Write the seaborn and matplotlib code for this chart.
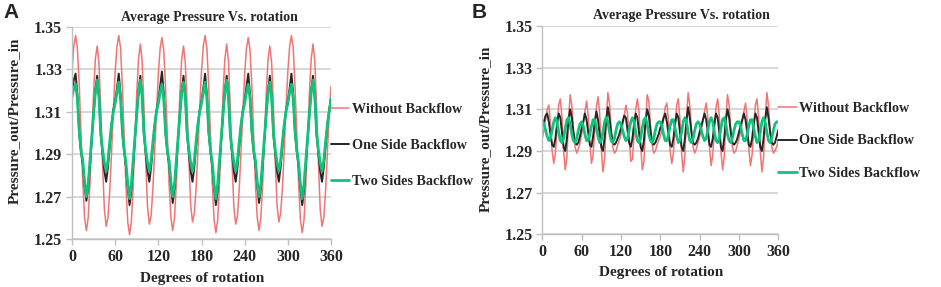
import numpy as np
import pandas as pd
import matplotlib
matplotlib.use("Agg")
import matplotlib.pyplot as plt
import seaborn as sns

# ---------------- data ----------------
SERIES = ["Without Backflow", "One Side Backflow", "Two Sides Backflow"]
TITLE = "Average Pressure Vs. rotation"
XLABEL = "Degrees of rotation"
YLABEL = "Pressure_out/Pressure_in"
XTICKS = [0, 60, 120, 180, 240, 300, 360]
YTICKS = [1.25, 1.27, 1.29, 1.31, 1.33, 1.35]

# angles sampled every 2.5 degrees, 0..360
deg = np.arange(0, 360.1, 2.5)

# Panel A
a_without = [
    1.329, 1.341, 1.346, 1.340, 1.323, 1.300, 1.277, 1.260, 1.254, 1.260, 1.276, 1.297, 1.319, 1.335, 1.341, 1.333, 1.311, 1.285, 1.264, 1.256, 1.260, 1.273, 1.291, 1.311,
    1.329, 1.341, 1.346, 1.340, 1.322, 1.298, 1.275, 1.258, 1.252, 1.258, 1.275, 1.297, 1.319, 1.335, 1.342, 1.334, 1.312, 1.286, 1.265, 1.257, 1.261, 1.274, 1.292, 1.311,
    1.328, 1.340, 1.345, 1.339, 1.322, 1.299, 1.276, 1.260, 1.254, 1.260, 1.276, 1.297, 1.319, 1.335, 1.341, 1.333, 1.312, 1.287, 1.266, 1.258, 1.262, 1.274, 1.292, 1.312,
    1.329, 1.341, 1.346, 1.340, 1.322, 1.299, 1.276, 1.259, 1.253, 1.259, 1.276, 1.297, 1.319, 1.335, 1.342, 1.334, 1.312, 1.286, 1.265, 1.257, 1.261, 1.274, 1.292, 1.311,
    1.328, 1.340, 1.345, 1.339, 1.322, 1.299, 1.276, 1.260, 1.254, 1.260, 1.276, 1.297, 1.319, 1.335, 1.341, 1.333, 1.312, 1.287, 1.266, 1.258, 1.262, 1.274, 1.292, 1.312,
    1.329, 1.341, 1.346, 1.340, 1.322, 1.299, 1.276, 1.259, 1.253, 1.259, 1.276, 1.297, 1.319, 1.335, 1.342, 1.334, 1.312, 1.286, 1.264, 1.256, 1.260, 1.273, 1.291, 1.309,
    1.322,
]
a_one = [
    1.318, 1.325, 1.328, 1.318, 1.300, 1.291, 1.285, 1.275, 1.268, 1.274, 1.285, 1.297, 1.309, 1.320, 1.327, 1.317, 1.299, 1.290, 1.282, 1.277, 1.284, 1.294, 1.304, 1.311,
    1.315, 1.321, 1.328, 1.318, 1.300, 1.291, 1.284, 1.274, 1.266, 1.273, 1.285, 1.297, 1.309, 1.320, 1.327, 1.317, 1.299, 1.290, 1.282, 1.277, 1.284, 1.294, 1.304, 1.311,
    1.315, 1.322, 1.329, 1.319, 1.300, 1.291, 1.285, 1.275, 1.267, 1.274, 1.285, 1.297, 1.309, 1.320, 1.327, 1.317, 1.299, 1.290, 1.282, 1.277, 1.284, 1.294, 1.304, 1.311,
    1.315, 1.321, 1.328, 1.318, 1.300, 1.291, 1.284, 1.274, 1.266, 1.273, 1.285, 1.297, 1.309, 1.320, 1.327, 1.317, 1.299, 1.290, 1.282, 1.277, 1.284, 1.294, 1.304, 1.311,
    1.315, 1.322, 1.328, 1.318, 1.300, 1.291, 1.285, 1.275, 1.267, 1.274, 1.285, 1.297, 1.309, 1.320, 1.327, 1.317, 1.299, 1.290, 1.282, 1.277, 1.284, 1.294, 1.304, 1.311,
    1.315, 1.321, 1.328, 1.318, 1.300, 1.291, 1.284, 1.274, 1.266, 1.273, 1.285, 1.297, 1.309, 1.320, 1.327, 1.317, 1.299, 1.290, 1.282, 1.277, 1.284, 1.294, 1.304, 1.311,
    1.316,
]
a_two = [
    1.317, 1.321, 1.323, 1.316, 1.301, 1.292, 1.287, 1.277, 1.270, 1.276, 1.287, 1.298, 1.309, 1.319, 1.325, 1.317, 1.300, 1.292, 1.286, 1.282, 1.287, 1.296, 1.304, 1.310,
    1.314, 1.319, 1.324, 1.316, 1.301, 1.292, 1.286, 1.276, 1.269, 1.276, 1.287, 1.298, 1.309, 1.319, 1.325, 1.317, 1.300, 1.292, 1.286, 1.282, 1.287, 1.296, 1.304, 1.310,
    1.314, 1.319, 1.323, 1.316, 1.301, 1.292, 1.287, 1.277, 1.270, 1.276, 1.287, 1.298, 1.309, 1.319, 1.324, 1.317, 1.300, 1.292, 1.286, 1.282, 1.287, 1.296, 1.304, 1.310,
    1.314, 1.319, 1.324, 1.316, 1.301, 1.292, 1.286, 1.276, 1.269, 1.276, 1.287, 1.298, 1.309, 1.319, 1.325, 1.317, 1.300, 1.292, 1.286, 1.282, 1.287, 1.296, 1.304, 1.310,
    1.314, 1.319, 1.323, 1.316, 1.301, 1.292, 1.287, 1.277, 1.270, 1.276, 1.287, 1.298, 1.309, 1.319, 1.324, 1.317, 1.300, 1.292, 1.286, 1.282, 1.287, 1.296, 1.304, 1.310,
    1.314, 1.319, 1.323, 1.316, 1.301, 1.292, 1.286, 1.276, 1.269, 1.276, 1.287, 1.298, 1.309, 1.319, 1.325, 1.317, 1.300, 1.292, 1.286, 1.282, 1.287, 1.296, 1.304, 1.310,
    1.316,
]

# Panel B
b_without = [
    1.296, 1.300, 1.305, 1.310, 1.312, 1.303, 1.290, 1.284, 1.289, 1.301, 1.312, 1.315, 1.306, 1.290, 1.281, 1.287, 1.305, 1.317, 1.312, 1.300, 1.292, 1.289, 1.291, 1.294,
    1.298, 1.303, 1.309, 1.314, 1.307, 1.294, 1.284, 1.288, 1.300, 1.311, 1.316, 1.308, 1.291, 1.280, 1.286, 1.304, 1.318, 1.313, 1.301, 1.292, 1.289, 1.290, 1.293, 1.295,
    1.298, 1.302, 1.307, 1.312, 1.308, 1.296, 1.285, 1.286, 1.298, 1.310, 1.315, 1.309, 1.293, 1.281, 1.285, 1.302, 1.317, 1.314, 1.302, 1.293, 1.289, 1.290, 1.293, 1.295,
    1.297, 1.300, 1.305, 1.311, 1.313, 1.304, 1.290, 1.284, 1.289, 1.301, 1.312, 1.315, 1.305, 1.289, 1.280, 1.288, 1.306, 1.318, 1.312, 1.300, 1.292, 1.289, 1.291, 1.294,
    1.297, 1.300, 1.304, 1.309, 1.313, 1.306, 1.292, 1.283, 1.288, 1.300, 1.311, 1.315, 1.307, 1.290, 1.281, 1.287, 1.305, 1.317, 1.312, 1.300, 1.292, 1.289, 1.290, 1.293,
    1.296, 1.299, 1.304, 1.309, 1.313, 1.305, 1.291, 1.283, 1.288, 1.300, 1.312, 1.315, 1.306, 1.290, 1.280, 1.287, 1.305, 1.318, 1.312, 1.300, 1.292, 1.289, 1.290, 1.292,
    1.295,
]
b_one = [
    1.302, 1.304, 1.307, 1.308, 1.304, 1.298, 1.293, 1.292, 1.296, 1.303, 1.308, 1.306, 1.299, 1.292, 1.290, 1.296, 1.305, 1.310, 1.306, 1.299, 1.294, 1.293, 1.294, 1.297,
    1.301, 1.304, 1.308, 1.305, 1.299, 1.293, 1.292, 1.297, 1.304, 1.309, 1.305, 1.298, 1.292, 1.290, 1.296, 1.305, 1.311, 1.306, 1.299, 1.294, 1.293, 1.294, 1.296, 1.298,
    1.301, 1.304, 1.307, 1.306, 1.300, 1.294, 1.292, 1.296, 1.303, 1.308, 1.306, 1.299, 1.292, 1.290, 1.295, 1.304, 1.310, 1.307, 1.300, 1.294, 1.293, 1.294, 1.296, 1.298,
    1.301, 1.303, 1.306, 1.308, 1.304, 1.298, 1.293, 1.292, 1.296, 1.303, 1.308, 1.306, 1.299, 1.292, 1.290, 1.296, 1.305, 1.311, 1.306, 1.299, 1.294, 1.293, 1.294, 1.296,
    1.299, 1.302, 1.305, 1.308, 1.305, 1.299, 1.293, 1.292, 1.296, 1.303, 1.308, 1.306, 1.299, 1.292, 1.290, 1.296, 1.305, 1.310, 1.306, 1.299, 1.294, 1.293, 1.294, 1.296,
    1.299, 1.302, 1.305, 1.308, 1.305, 1.299, 1.293, 1.292, 1.296, 1.303, 1.308, 1.306, 1.299, 1.292, 1.290, 1.296, 1.305, 1.311, 1.306, 1.299, 1.294, 1.293, 1.294, 1.297,
    1.300,
]
b_two = [
    1.304, 1.303, 1.300, 1.297, 1.295, 1.296, 1.300, 1.304, 1.306, 1.304, 1.299, 1.295, 1.294, 1.296, 1.301, 1.305, 1.306, 1.303, 1.298, 1.295, 1.294, 1.296, 1.300, 1.303,
    1.304, 1.302, 1.298, 1.295, 1.295, 1.298, 1.302, 1.305, 1.305, 1.301, 1.297, 1.294, 1.295, 1.299, 1.304, 1.306, 1.304, 1.299, 1.295, 1.294, 1.296, 1.300, 1.303, 1.304,
    1.303, 1.300, 1.297, 1.295, 1.296, 1.300, 1.304, 1.306, 1.304, 1.299, 1.295, 1.294, 1.296, 1.301, 1.305, 1.306, 1.303, 1.298, 1.295, 1.294, 1.296, 1.300, 1.303, 1.304,
    1.304, 1.302, 1.298, 1.295, 1.295, 1.298, 1.302, 1.305, 1.305, 1.301, 1.297, 1.294, 1.295, 1.299, 1.304, 1.306, 1.304, 1.299, 1.295, 1.294, 1.296, 1.300, 1.303, 1.304,
    1.303, 1.300, 1.297, 1.295, 1.296, 1.300, 1.304, 1.306, 1.304, 1.299, 1.295, 1.294, 1.296, 1.301, 1.305, 1.306, 1.303, 1.298, 1.295, 1.294, 1.296, 1.300, 1.303, 1.304,
    1.304, 1.302, 1.298, 1.295, 1.295, 1.298, 1.302, 1.305, 1.305, 1.301, 1.297, 1.294, 1.295, 1.299, 1.304, 1.306, 1.304, 1.299, 1.295, 1.294, 1.296, 1.300, 1.303, 1.304,
    1.304,
]

# ---------------- style ----------------
COLORS = ["#f07575", "#262626", "#10c27c"]
WIDTHS = [1.1, 1.4, 2.0]

sns.set_theme(style="white")
plt.rcParams["font.family"] = ["Liberation Serif", "DejaVu Serif"]
plt.rcParams["font.weight"] = "bold"

fig = plt.figure(figsize=(9.41, 2.87), dpi=100)
axA = fig.add_axes([72 / 941, 1 - 239 / 287, 259 / 941, 212 / 287])
axB = fig.add_axes([542.3 / 941, 1 - 234.3 / 287, 236 / 941, 208.3 / 287])

panels = [
    (axA, [a_without, a_one, a_two], 0.443, 1.62, (0.529, 1.047), (-0.197, 0.557), (0.504, -0.156)),
    (axB, [b_without, b_one, b_two], 0.448, 1.40, (0.590, 1.049), (-0.214, 0.508), (0.503, -0.153)),
]

for ax, vals, leg_y, lspace, tpos, ylpos, xlpos in panels:
    for name, v, c, lw in zip(SERIES, vals, COLORS, WIDTHS):
        df = pd.DataFrame({"deg": deg, "val": v})
        sns.lineplot(data=df, x="deg", y="val", ax=ax, color=c, linewidth=lw,
                     label=name, estimator=None, sort=False)
    ax.set_xlim(0, 360)
    ax.set_ylim(1.25, 1.35)
    ax.set_xticks(XTICKS)
    ax.set_yticks(YTICKS)
    ax.set_yticklabels([f"{t:.2f}" for t in YTICKS])
    ax.yaxis.grid(True, color="#d4d4d4", linewidth=1.3)
    ax.xaxis.grid(False)
    ax.set_axisbelow(True)
    for s in ["top", "right"]:
        ax.spines[s].set_visible(False)
    for s in ["left", "bottom"]:
        ax.spines[s].set_color("#bfbfbf")
        ax.spines[s].set_linewidth(1.0)
    ax.tick_params(axis="both", which="major", length=4, width=1.0, color="#bfbfbf",
                   labelsize=11.5, pad=3, direction="out", bottom=True, left=True)
    for lab in ax.get_xticklabels() + ax.get_yticklabels():
        lab.set_fontweight("bold")
    ax.set_xlabel(XLABEL, fontsize=11, fontweight="bold")
    ax.set_ylabel(YLABEL, fontsize=11, fontweight="bold")
    ax.xaxis.set_label_coords(*xlpos)
    ax.yaxis.set_label_coords(*ylpos)
    ax.text(tpos[0], tpos[1], TITLE, transform=ax.transAxes, ha="center", va="center",
            fontsize=10, fontweight="bold")
    ax.legend(loc="center left", bbox_to_anchor=(1.0, leg_y), frameon=False,
              borderaxespad=0.0, borderpad=0.0, handlelength=1.3, handletextpad=0.15,
              labelspacing=lspace, prop={"weight": "bold", "size": 10.2})

fig.text(3 / 941, 1 - 3 / 287, "A", ha="left", va="top", fontsize=15, fontweight="bold",
         family=["Liberation Sans", "DejaVu Sans"])
fig.text(472 / 941, 1 - 3 / 287, "B", ha="left", va="top", fontsize=15, fontweight="bold",
         family=["Liberation Sans", "DejaVu Sans"])

fig.savefig("out.png", dpi=100)
